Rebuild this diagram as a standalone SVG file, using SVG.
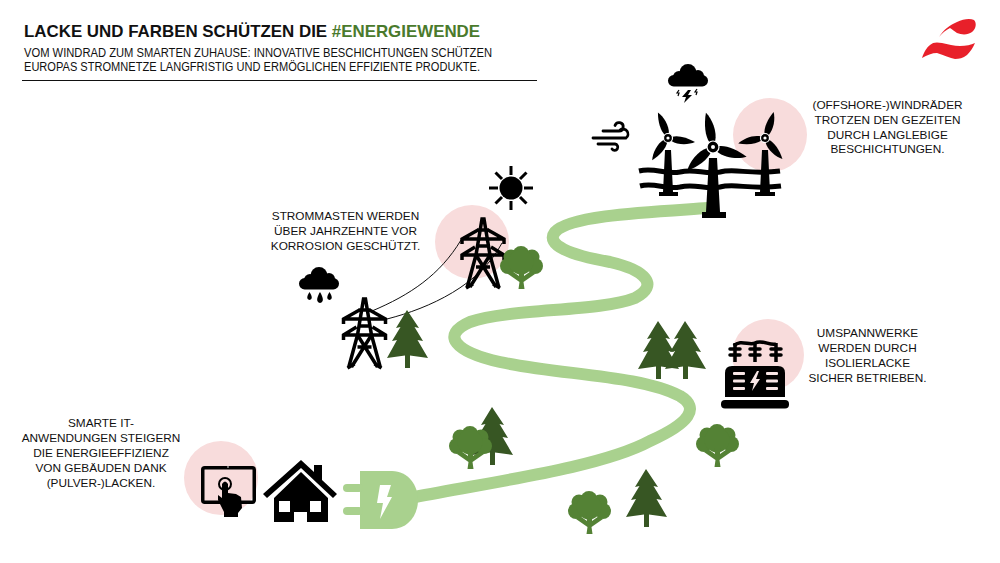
<svg xmlns="http://www.w3.org/2000/svg" xmlns:xlink="http://www.w3.org/1999/xlink" width="1000" height="563" viewBox="0 0 1000 563">
<style>
text{font-family:"Liberation Sans",Arial,sans-serif;fill:#111}
.t{font-size:16.9px;font-weight:700}
.s{font-size:12px}
.l{font-size:11.8px;text-anchor:middle}
.p{fill:#f8dcdc}
</style>
<defs>
<path id="blade" d="M-2.500,-5 C-6,-12 -5,-24 -1,-35 C4,-28 7,-14 3,-5 Z" fill="#000"/>
<g id="pylon" fill="none" stroke="#000" stroke-width="3.500">
<path d="M-16,71 L-7,38 L-1,2 L1,2 L7,38 L16,71 M-7,38 L13,70 M7,38 L-13,70 M-17,71 L-10,67 M17,71 L10,67 M-6,13 H6 M-6,29 H6 M-7,50 H7"/>
<path d="M-21,27 V22 L-5,13 M21,27 V22 L5,13 M-21,22 H21 M-21,43 V38 L-8,30 M21,43 V38 L8,30 M-21,38 H21"/>
</g>
<g id="tree">
<g fill="#548235">
<circle cx="21" cy="8.500" r="8.500"/><circle cx="11" cy="11" r="7.500"/><circle cx="32" cy="11" r="7.500"/><circle cx="8" cy="20" r="8"/><circle cx="35" cy="20" r="8"/><circle cx="21" cy="16" r="12.500"/>
<path d="M18.500,43 L19.500,36 L8,28 L12,25 L19,30 L18.500,24 H24.500 L24,30 L31,25 L35,28 L23.500,36 L24.500,43 Z"/>
</g>
</g>
<path id="fir" fill="#375623" d="M20,0 L32,18 L27.500,17 L36,31 L30.500,30 L41,48 L23,45.500 V58 H18 V45.500 L0,48 L10,30 L5,31 L13.500,17 L9,18 Z"/>
<g id="cloud" fill="#000">
<circle cx="20" cy="8.500" r="8.500"/><circle cx="11" cy="13" r="6"/><circle cx="30" cy="12" r="6"/><rect x="0" y="11" width="40" height="11.500" rx="5.700"/>
</g>
</defs>

<g id="circles">
<circle class="p" cx="770" cy="135" r="37"/>
<circle class="p" cx="472" cy="242" r="37"/>
<circle class="p" cx="221" cy="478" r="37"/>
<circle class="p" cx="768" cy="355" r="36"/>
</g>

<g id="connectors">
<path d="M415,497 C490,482 600,468 650,441 C690,423 700,408 680,396 C640,375 560,375 500,362 C455,352 440,335 470,322 C510,308 600,312 635,298 C660,285 645,270 610,262 C570,255 545,245 555,232 C570,215 650,212 708,208" fill="none" stroke="#a9d18e" stroke-width="12"/>
<path d="M372,311 C410,295 440,275 461,240 M387,319 C430,308 480,285 502,243" fill="none" stroke="#111" stroke-width="1"/>
</g>

<g id="header">
<text class="t" x="24" y="37">LACKE UND FARBEN SCHÜTZEN DIE <tspan fill="#4a7a2c">#ENERGIEWENDE</tspan></text>
<text class="s" x="24" y="56.500" textLength="468" lengthAdjust="spacingAndGlyphs">VOM WINDRAD ZUM SMARTEN ZUHAUSE: INNOVATIVE BESCHICHTUNGEN SCHÜTZEN</text>
<text class="s" x="24" y="70.500" textLength="456" lengthAdjust="spacingAndGlyphs">EUROPAS STROMNETZE LANGFRISTIG UND ERMÖGLICHEN EFFIZIENTE PRODUKTE.</text>
<path d="M22,80.500 H537" stroke="#111" stroke-width="1.200"/>
</g>

<g id="logo" fill="#e8202a">
<path d="M939,37 C944,29 950,25 957,22 C963,19 970,18 974,20 C977,23 976,29 972,32 C968,35 962,35 957,33 C954,31 952,29 950,28 C946,30 942,33 939,37 Z"/>
<path d="M922,58 C924,52 927,47 930,45 C933,42 937,42 942,43 C948,44 954,46 960,46 C966,46 971,45 975,43 C973,48 970,52 967,55 C963,58 959,59 955,59 C950,58 944,55 937,53 C932,53 927,55 922,58 Z"/>
</g>

<g id="turbines">
<path d="M665,150 H671 L673,192 H678 V196 H659 V192 H663 Z M762,150 H768 L770,192 H775 V196 H755 V192 H760 Z" fill="#000"/>
<g fill="#000">
<use xlink:href="#blade" href="#blade" transform="translate(668,138) rotate(-20) scale(.78)"/>
<use xlink:href="#blade" href="#blade" transform="translate(668,138) rotate(100) scale(.78)"/>
<use xlink:href="#blade" href="#blade" transform="translate(668,138) rotate(217) scale(.78)"/>
<use xlink:href="#blade" href="#blade" transform="translate(765,138) rotate(20) scale(.78)"/>
<use xlink:href="#blade" href="#blade" transform="translate(765,138) rotate(-100) scale(.78)"/>
<use xlink:href="#blade" href="#blade" transform="translate(765,138) rotate(142) scale(.78)"/>
</g>
<path d="M639,171 C655,167 665,175 680,172 C695,168 705,175 720,172 C735,168 750,175 780,171 M640,186 C655,182 665,190 680,187 C695,183 705,190 720,187 C735,183 750,190 781,186" fill="none" stroke="#000" stroke-width="5"/>
<path d="M709,158 H717 L720,212 H726 V218 H702 V212 H706 Z" fill="#000"/>
<g fill="#000">
<use xlink:href="#blade" href="#blade" transform="translate(713,147) rotate(-10)"/>
<use xlink:href="#blade" href="#blade" transform="translate(713,147) rotate(108)"/>
<use xlink:href="#blade" href="#blade" transform="translate(713,147) rotate(229)"/>
</g>
<g fill="#000" stroke="#fff" stroke-width="1.200">
<circle cx="668" cy="138" r="4.500"/><circle cx="765" cy="138" r="4.500"/><circle cx="713" cy="147" r="6"/>
</g>
<g fill="#fff"><circle cx="668" cy="138" r="1.600"/><circle cx="765" cy="138" r="1.600"/><circle cx="713" cy="147" r="2"/></g>
</g>

<g id="storm">
<use xlink:href="#cloud" href="#cloud" x="668" y="64"/>
<path d="M688,90 L682,97 H686 L684,103 L692,95 H688 L691,90 Z" fill="#000"/>
<path d="M679,90 L677,93 H679 L678,96 M697,89 L695,92 H697 L696,95" stroke="#000" stroke-width="1.200" fill="none"/>
</g>

<g id="wind">
<path stroke="#000" stroke-width="2.800" stroke-linecap="round" d="M603,131 H619 A4.200,4.200 0 1 0 615,125.500 M593,138 H626 A5,5 0 1 0 620,130 M598,144 H615 A3.200,3.200 0 1 1 612,149" fill="none"/>
</g>

<g id="sun" fill="#000">
<circle cx="511" cy="188" r="11.500"/>
<path d="M511,166 V175 M511,201 V210 M489,188 H498 M524,188 H533 M495.500,172.500 L502,179 M520,197 L526.500,203.500 M526.500,172.500 L520,179 M502,197 L495.500,203.500" stroke="#000" stroke-width="3"/>
</g>

<g id="rain">
<use xlink:href="#cloud" href="#cloud" x="299" y="267"/>
<g fill="#000"><path d="M309.500,292 C307,296 306,299 309.500,300 C313,299 312,296 309.500,292 Z"/><path d="M320,292 C317,297 315.500,302 320,303 C324.500,302 323,297 320,292 Z"/><path d="M329.500,292 C327,296 326,299 329.500,300 C333,299 332,296 329.500,292 Z"/></g>
</g>

<g id="pylon-large"><use xlink:href="#pylon" href="#pylon" x="483" y="217"/></g>
<g id="pylon-small"><use xlink:href="#pylon" href="#pylon" x="364.500" y="297"/></g>

<g id="trees">
<use xlink:href="#fir" href="#fir" x="387" y="310"/>
<use xlink:href="#tree" href="#tree" x="500" y="246"/>
<use xlink:href="#fir" href="#fir" x="472" y="407"/>
<use xlink:href="#tree" href="#tree" x="449" y="426"/>
<use xlink:href="#tree" href="#tree" x="568" y="491"/>
<use xlink:href="#fir" href="#fir" x="626" y="469"/>
<use xlink:href="#fir" href="#fir" x="638" y="321"/>
<use xlink:href="#fir" href="#fir" x="665" y="321"/>
<use xlink:href="#tree" href="#tree" x="696" y="424"/>
</g>

<g id="transformer" fill="#000">
<path d="M734,346 C740,339 750,346 755,343 C762,339 770,346 776,344" fill="none" stroke="#000" stroke-width="3.500"/>
<path d="M735,343 V362 M755,343 V362 M776,343 V362" stroke="#000" stroke-width="3.500"/>
<path d="M730,349 H740 M730,355 H740 M750,349 H760 M750,355 H760 M771,349 H781 M771,355 H781" stroke="#000" stroke-width="3.500" stroke-linecap="round"/>
<path d="M732,366 H778 Q785,366 785,373 V397 H725 V373 Q725,366 732,366 Z"/>
<rect x="721" y="400" width="68" height="8.500" rx="4"/>
<g fill="#f8e6e6"><rect x="733" y="372" width="12" height="3" rx="1"/><rect x="733" y="379.500" width="12" height="3" rx="1"/><rect x="733" y="387" width="12" height="3" rx="1"/><rect x="766" y="372" width="12" height="3" rx="1"/><rect x="766" y="379.500" width="12" height="3" rx="1"/><rect x="766" y="387" width="12" height="3" rx="1"/><path d="M757,371 L750,383 H754 L752,391 L760,379 H756 L759,371 Z"/></g>
</g>

<g id="tablet">
<rect x="202.750" y="467.750" width="51.500" height="34.500" rx="2" fill="none" stroke="#000" stroke-width="3.500"/>
<circle cx="228" cy="467" r=".8" fill="#fff"/>
<circle cx="225" cy="484" r="6" fill="none" stroke="#000" stroke-width="2"/>
<path d="M222,484 Q225,479 228,484 V493 L236,494 L241,497 L242,508 L238,513 V517 H224 V512 L218,500 V495 L222,498 Z" fill="#000"/>
</g>

<g id="house">
<path d="M301,472 L328,498 V522 H307 V512 H294 V522 H274 V498 Z" fill="#000"/>
<path d="M263,494 L301,460 L314,472 V465 H322 V480 L337,494 L333,498 L301,468 L267,498 Z" fill="#000"/>
<rect x="279" y="501" width="11" height="11" fill="#fff"/><rect x="310" y="501" width="11" height="11" fill="#fff"/>
</g>

<g id="plug">
<path d="M360,471 H392 C408,471 418,485 418,500 C418,515 408,529 392,529 H360 Z" fill="#a9d18e"/>
<rect x="343" y="484" width="20" height="8" rx="4" fill="#a9d18e"/><rect x="343" y="507" width="20" height="8" rx="4" fill="#a9d18e"/>
<path d="M380,485 H391 L387,497 H392 L380,519 L383,503 H377 Z" fill="#fff"/>
</g>

<g id="labels">
<g><text class="l" x="887.500" y="109">(OFFSHORE-)WINDRÄDER</text><text class="l" x="887.500" y="123.500">TROTZEN DEN GEZEITEN</text><text class="l" x="887.500" y="138.500">DURCH LANGLEBIGE</text><text class="l" x="887.500" y="153">BESCHICHTUNGEN.</text></g>
<g><text class="l" x="345.500" y="220">STROMMASTEN WERDEN</text><text class="l" x="345.500" y="235">ÜBER JAHRZEHNTE VOR</text><text class="l" x="345.500" y="250">KORROSION GESCHÜTZT.</text></g>
<g><text class="l" x="867.500" y="336.500">UMSPANNWERKE</text><text class="l" x="867.500" y="351.500">WERDEN DURCH</text><text class="l" x="867.500" y="366.500">ISOLIERLACKE</text><text class="l" x="867.500" y="381.500">SICHER BETRIEBEN.</text></g>
<g><text class="l" x="101" y="426.500">SMARTE IT-</text><text class="l" x="101" y="441.500">ANWENDUNGEN STEIGERN</text><text class="l" x="101" y="456.500">DIE ENERGIEEFFIZIENZ</text><text class="l" x="101" y="471.500">VON GEBÄUDEN DANK</text><text class="l" x="101" y="486.500">(PULVER-)LACKEN.</text></g>
</g>
</svg>
